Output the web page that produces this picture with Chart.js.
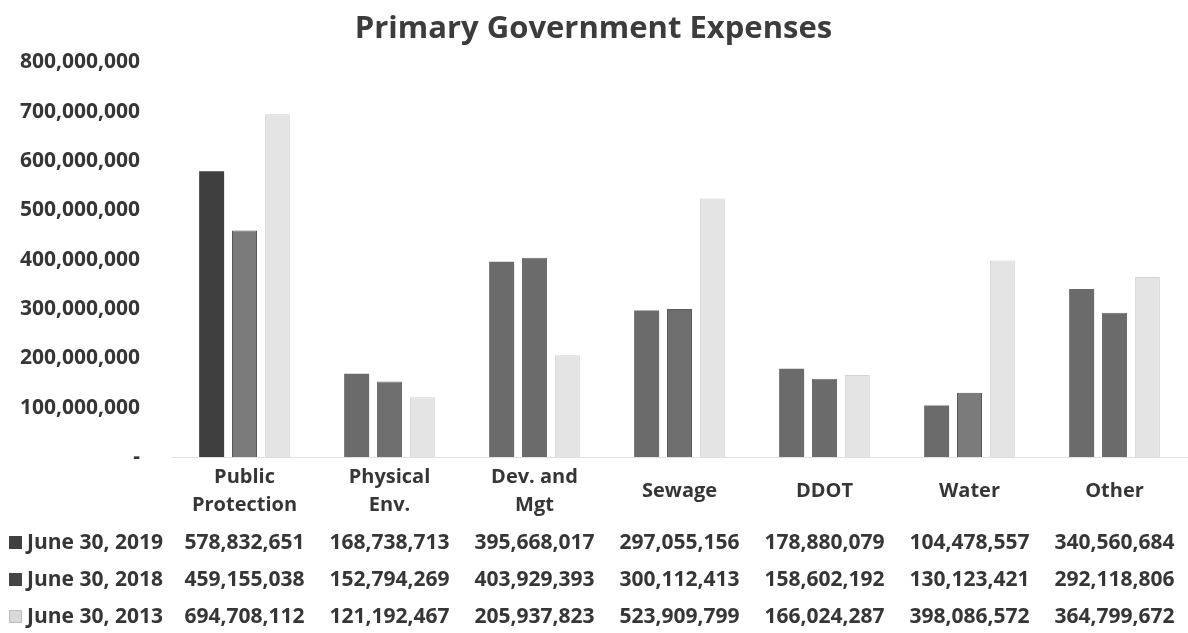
<!DOCTYPE html>
<html lang="en">
<head>
    <meta charset="UTF-8">
    <title>Primary Government Expenses</title>
    <script src="https://cdn.jsdelivr.net/npm/chart.js@4.4.1/dist/chart.umd.min.js"></script>
    <style>
        html, body {
            margin: 0;
            padding: 0;
            background: #ffffff;
        }
        #wrap {
            width: 1188px;
            height: 633px;
        }
    </style>
</head>
<body>
    <div id="wrap">
        <canvas id="graphCanvas" width="1188" height="633"></canvas>
    </div>

    <script>
        const categories = [
            ['Public', 'Protection'],
            ['Physical', 'Env.'],
            ['Dev. and', 'Mgt'],
            ['Sewage'],
            ['DDOT'],
            ['Water'],
            ['Other']
        ];
        const seriesNames = ['June 30, 2019', 'June 30, 2018', 'June 30, 2013'];
        const fy2019 = [578832651, 168738713, 395668017, 297055156, 178880079, 104478557, 340560684];
        const fy2018 = [459155038, 152794269, 403929393, 300112413, 158602192, 130123421, 292118806];
        const fy2013 = [694708112, 121192467, 205937823, 523909799, 166024287, 398086572, 364799672];

        const textColor = '#363636';
        const fontFamily = '"Open Sans", "DejaVu Sans", sans-serif';
        const legendColors = ['#404040', '#454545', '#d9d9d9'];

        function fmt(v) {
            return v === 0 ? '-' : v.toLocaleString('en-US');
        }

        // category labels (vertically centred like Excel) + data table underneath
        const dataTable = {
            id: 'dataTable',
            afterDraw(chart) {
                const ctx = chart.ctx;
                const xScale = chart.scales.x;
                ctx.save();
                ctx.fillStyle = textColor;
                ctx.textBaseline = 'middle';
                ctx.textAlign = 'center';
                ctx.font = 'bold 20px ' + fontFamily;
                chart.data.labels.forEach((lab, i) => {
                    const x = xScale.getPixelForValue(i);
                    const lineH = 28;
                    const y0 = 491 - (lab.length - 1) * lineH / 2;
                    lab.forEach((line, k) => ctx.fillText(line, x, y0 + k * lineH));
                });

                const rowY = [543, 580, 617];
                ctx.font = 'bold 21px ' + fontFamily;
                chart.data.datasets.forEach((ds, r) => {
                    const y = rowY[r];
                    ctx.fillStyle = legendColors[r];
                    ctx.fillRect(9, y - 7, 13, 13);
                    if (r === 2) {
                        ctx.strokeStyle = '#bdbdbd';
                        ctx.lineWidth = 1;
                        ctx.strokeRect(9.5, y - 6.5, 12, 12);
                    }
                    ctx.fillStyle = textColor;
                    ctx.textAlign = 'left';
                    ctx.fillText(ds.label, 27, y);
                    ctx.textAlign = 'center';
                    ds.data.forEach((v, i) => {
                        ctx.fillText(fmt(v), xScale.getPixelForValue(i), y);
                    });
                });
                ctx.restore();
            }
        };

        const ctx = document.getElementById('graphCanvas').getContext('2d');
        new Chart(ctx, {
            type: 'bar',
            data: {
                labels: categories,
                datasets: [
                    {
                        label: seriesNames[0],
                        data: fy2019,
                        backgroundColor: ['#3f3f3f', '#6b6b6b', '#6b6b6b', '#6b6b6b', '#6b6b6b', '#6b6b6b', '#6b6b6b'],
                        borderWidth: 0
                    },
                    {
                        label: seriesNames[1],
                        data: fy2018,
                        backgroundColor: ['#7b7b7b', '#6e6e6e', '#6b6b6b', '#6e6e6e', '#6b6b6b', '#7b7b7b', '#6b6b6b'],
                        borderColor: ['#555555', '#6e6e6e', '#6b6b6b', '#5a5a5a', '#6b6b6b', '#555555', '#6b6b6b'],
                        borderWidth: 1
                    },
                    {
                        label: seriesNames[2],
                        data: fy2013,
                        backgroundColor: '#e4e4e4',
                        borderColor: '#d2d2d2',
                        borderWidth: 1
                    }
                ]
            },
            options: {
                responsive: false,
                animation: false,
                layout: {
                    padding: { left: 0, right: 1, top: 0, bottom: 118 }
                },
                datasets: {
                    bar: {
                        categoryPercentage: 0.68,
                        barPercentage: 0.76
                    }
                },
                plugins: {
                    legend: { display: false },
                    tooltip: { enabled: false },
                    title: {
                        display: true,
                        text: 'Primary Government Expenses',
                        color: '#3c3c3c',
                        font: { family: fontFamily, size: 31, weight: 'bold', lineHeight: 1.2 },
                        padding: { top: 11, bottom: 14 }
                    }
                },
                scales: {
                    x: {
                        grid: { display: false, drawTicks: false },
                        border: { display: true, color: '#e0e0e0', width: 1 },
                        ticks: { display: false },
                        afterFit(scale) { scale.height = 58; }
                    },
                    y: {
                        min: 0,
                        max: 800000000,
                        grid: { display: false, drawTicks: false },
                        border: { display: false },
                        ticks: {
                            stepSize: 100000000,
                            color: textColor,
                            font: { family: fontFamily, size: 21, weight: 'bold' },
                            padding: 32,
                            callback: v => fmt(v)
                        },
                        afterFit(scale) { scale.width = 172; }
                    }
                }
            },
            plugins: [dataTable]
        });
    </script>
</body>
</html>
